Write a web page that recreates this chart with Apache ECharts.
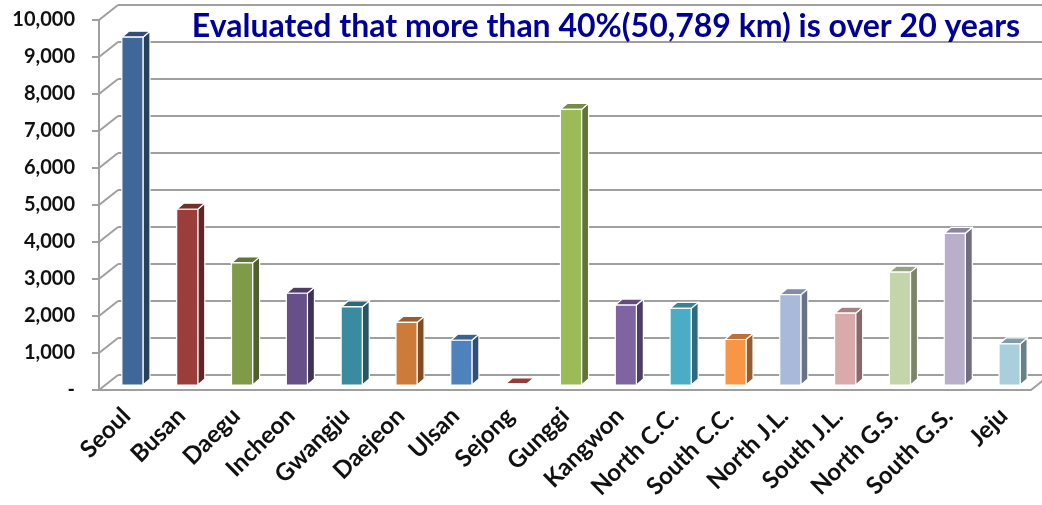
<!DOCTYPE html>
<html>
<head>
<meta charset="utf-8">
<script src="https://cdn.jsdelivr.net/npm/echarts@6/dist/echarts.min.js"></script>
<style>
  html, body { margin: 0; padding: 0; background: #fff; }
  #chart { width: 1042px; height: 505px; }
</style>
</head>
<body>
<div id="chart"></div>
<script>
// Road length (km) older than 20 years, by region
const regions = ['Seoul', 'Busan', 'Daegu', 'Incheon', 'Gwangju', 'Daejeon', 'Ulsan', 'Sejong',
  'Gunggi', 'Kangwon', 'North C.C.', 'South C.C.', 'North J.L.', 'South J.L.', 'North G.S.', 'South G.S.', 'Jeju'];
const lengthKm = [9400, 4750, 3300, 2480, 2110, 1690, 1210, 30,
  7450, 2160, 2070, 1230, 2440, 1940, 3050, 4100, 1110];
const yTicks = [0, 1000, 2000, 3000, 4000, 5000, 6000, 7000, 8000, 9000, 10000];
const barColors = ['#3f6797', '#9b3d3b', '#7f9a48', '#67508a', '#3a8aa0', '#cd7b38', '#4f81bd', '#c0504d',
  '#9bbb59', '#8064a2', '#4bacc6', '#f79646', '#a9b9d9', '#d9aaa9', '#c4d6a9', '#b9afcb', '#a9cfdd'];
const titleText = 'Evaluated that more than 40%(50,789 km) is over 20 years';

// pseudo-3D geometry (pixels)
const WALL_DX = 19, WALL_DY = -15;   // front plane -> back wall
const BAR_OX = 6, BAR_OY = -5;       // front plane -> bar front face
const BAR_DX = 7, BAR_DY = -6;       // bar depth
const GRID_COLOR = '#9f9f9f';
const FONT = 'Lato';

function shade(hex, k) {
  const n = parseInt(hex.slice(1), 16);
  const r = Math.round(((n >> 16) & 255) * k);
  const g = Math.round(((n >> 8) & 255) * k);
  const b = Math.round((n & 255) * k);
  return 'rgb(' + r + ',' + g + ',' + b + ')';
}

const chart = echarts.init(document.getElementById('chart'));

chart.setOption({
  animation: false,
  title: {
    text: titleText,
    left: 601,
    top: 6,
    textAlign: 'center',
    textStyle: { fontFamily: FONT, fontSize: 32, fontWeight: 'bold', color: '#000099' }
  },
  grid: { left: 99, right: 11, top: 20, bottom: 115 },
  xAxis: {
    type: 'category',
    data: regions,
    axisLine: { lineStyle: { color: GRID_COLOR, width: 2 } },
    axisTick: { length: 8, lineStyle: { color: GRID_COLOR, width: 2 } },
    axisLabel: {
      interval: 0, rotate: 45, margin: 22,
      fontFamily: FONT, fontSize: 24, fontWeight: 'bold', color: '#111'
    },
    splitLine: { show: false }
  },
  yAxis: {
    type: 'value',
    min: 0, max: 10000, interval: 1000,
    axisLine: { show: true, lineStyle: { color: GRID_COLOR, width: 2 } },
    axisTick: { show: true, length: 7, lineStyle: { color: GRID_COLOR, width: 2 } },
    axisLabel: {
      margin: 24,
      fontFamily: FONT, fontSize: 20, fontWeight: 'bold', color: '#111',
      formatter: v => v === 0 ? '-' : v.toLocaleString('en-US')
    },
    splitLine: { show: false }
  },
  series: [
    {
      // back wall gridlines with their diagonal links to the front axis
      type: 'custom',
      z: 1,
      silent: true,
      data: yTicks.map(v => [0, v]),
      renderItem: function (params, api) {
        const cs = params.coordSys;
        const v = api.value(1);
        const y = api.coord([0, v])[1];
        const xl = cs.x, xr = cs.x + cs.width;
        const style = { stroke: GRID_COLOR, lineWidth: 2, fill: null };
        const children = [
          { type: 'line', shape: { x1: xl, y1: y, x2: xl + WALL_DX, y2: y + WALL_DY }, style },
          { type: 'line', shape: { x1: xl + WALL_DX, y1: y + WALL_DY, x2: xr + WALL_DX, y2: y + WALL_DY }, style }
        ];
        if (v === 0) {
          children.push({ type: 'line', shape: { x1: xr, y1: y, x2: xr + WALL_DX, y2: y + WALL_DY }, style });
        }
        return { type: 'group', children };
      }
    },
    {
      // 3D-styled columns
      type: 'custom',
      z: 3,
      data: lengthKm.map((v, i) => [i, v]),
      renderItem: function (params, api) {
        const i = api.value(0);
        const base = api.coord([i, 0]);
        const top = api.coord([i, api.value(1)]);
        const w = api.size([1, 0])[0] * 0.385;
        const c = barColors[i];
        const xl = base[0] - w / 2 + BAR_OX;
        const xr = xl + w;
        const yb = base[1] + BAR_OY;
        const yt = top[1] + BAR_OY;
        const edge = { stroke: '#fff', lineWidth: 1.2 };
        return {
          type: 'group',
          children: [
            {
              type: 'polygon',
              shape: { points: [[xr, yt], [xr + BAR_DX, yt + BAR_DY], [xr + BAR_DX, yb + BAR_DY], [xr, yb]] },
              style: Object.assign({ fill: shade(c, 0.62) }, edge)
            },
            {
              type: 'polygon',
              shape: { points: [[xl, yt], [xr, yt], [xr + BAR_DX, yt + BAR_DY], [xl + BAR_DX, yt + BAR_DY]] },
              style: Object.assign({ fill: shade(c, 0.76) }, edge)
            },
            {
              type: 'rect',
              shape: { x: xl, y: yt, width: w, height: yb - yt },
              style: Object.assign({ fill: c }, edge)
            }
          ]
        };
      }
    }
  ]
});
</script>
</body>
</html>
